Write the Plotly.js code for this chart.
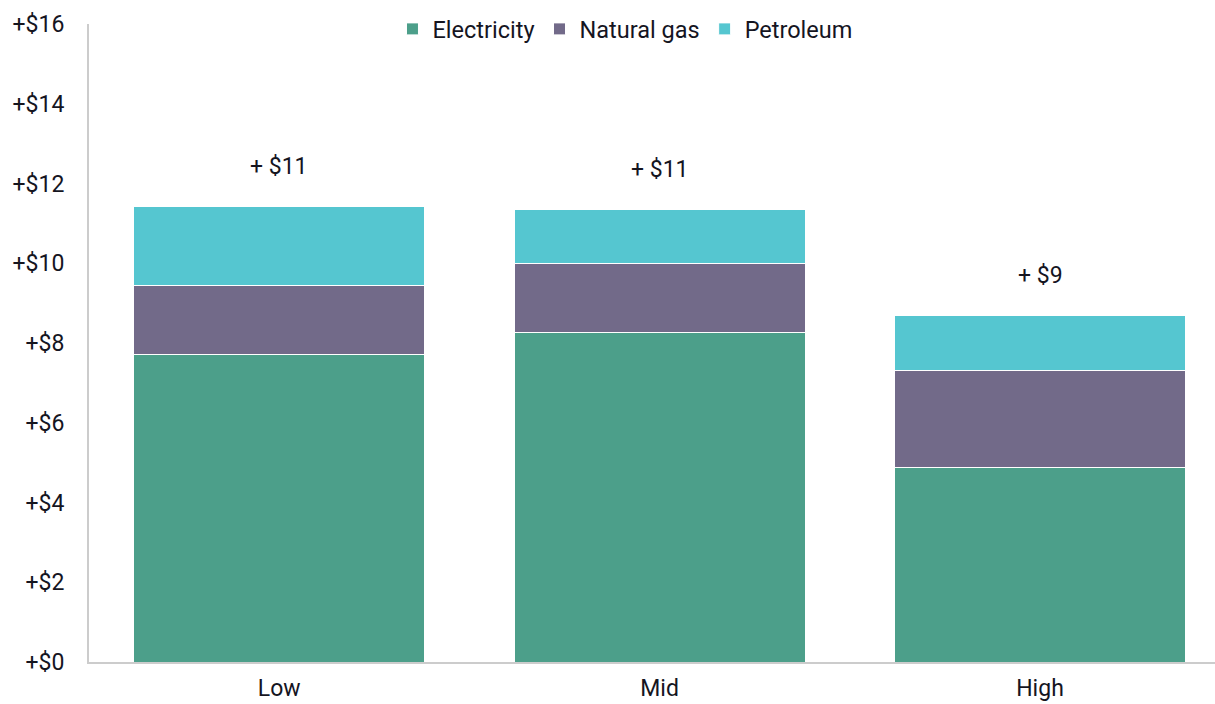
<!DOCTYPE html>
<html>
<head>
<meta charset="utf-8">
<script src="https://cdn.plot.ly/plotly-3.0.1.min.js"></script>
<style>html,body{margin:0;padding:0;background:#fff;}#chart{width:1215px;height:704px;}</style>
</head>
<body>
<div id="chart"></div>
<script>
const categories = ["Low", "Mid", "High"];
const electricity = [7.72, 8.27, 4.89];
const naturalGas = [1.73, 1.73, 2.43];
const petroleum = [1.98, 1.35, 1.38];
const totalLabels = ["+ $11", "+ $11", "+ $9"];
const yTickVals = [0, 2, 4, 6, 8, 10, 12, 14, 16];
const yTickText = ["+$0", "+$2", "+$4", "+$6", "+$8", "+$10", "+$12", "+$14", "+$16"];

const colors = {elec: "#4c9f8a", gas: "#726a89", pet: "#55c6d0"};
const textColor = "#15151f";
const mk = (c) => ({color: c, line: {color: "#ffffff", width: 1}});

const traces = [
  {type: "bar", name: "Electricity", x: categories, y: electricity, marker: mk(colors.elec), hoverinfo: "skip"},
  {type: "bar", name: "Natural gas", x: categories, y: naturalGas, marker: mk(colors.gas), hoverinfo: "skip"},
  {type: "bar", name: "Petroleum", x: categories, y: petroleum, marker: mk(colors.pet), hoverinfo: "skip"}
];

const totals = categories.map((c, i) => electricity[i] + naturalGas[i] + petroleum[i]);
const annotations = categories.map((c, i) => ({
  x: c, y: totals[i], xref: "x", yref: "y",
  text: totalLabels[i], showarrow: false,
  yanchor: "middle", yshift: 40,
  font: {family: "Roboto", size: 23, color: textColor}
}));

const layout = {
  width: 1215, height: 704,
  margin: {l: 89, r: 0, t: 24, b: 42},
  paper_bgcolor: "#ffffff", plot_bgcolor: "#ffffff",
  barmode: "stack",
  bargap: 0.235,
  font: {family: "Roboto", size: 23, color: textColor},
  showlegend: true,
  legend: {
    orientation: "h", x: 0.476, xanchor: "center", y: 0.992, yanchor: "middle",
    font: {family: "Roboto", size: 23.5, color: textColor},
    itemwidth: 30, traceorder: "normal", bgcolor: "rgba(0,0,0,0)"
  },
  xaxis: {
    type: "category", range: [-0.5, 2.46],
    showline: true, linecolor: "#cccccc", linewidth: 2,
    showgrid: false, zeroline: false, ticks: "",
    tickfont: {family: "Roboto", size: 23, color: textColor},
    ticklabelstandoff: 4
  },
  yaxis: {
    range: [0, 16], tickvals: yTickVals, ticktext: yTickText,
    showline: true, linecolor: "#cccccc", linewidth: 2,
    showgrid: false, zeroline: false, ticks: "",
    tickfont: {family: "Roboto", size: 23, color: textColor},
    ticklabelstandoff: 18
  },
  annotations: annotations
};

Plotly.newPlot("chart", traces, layout, {displayModeBar: false, staticPlot: true});
</script>
</body>
</html>
